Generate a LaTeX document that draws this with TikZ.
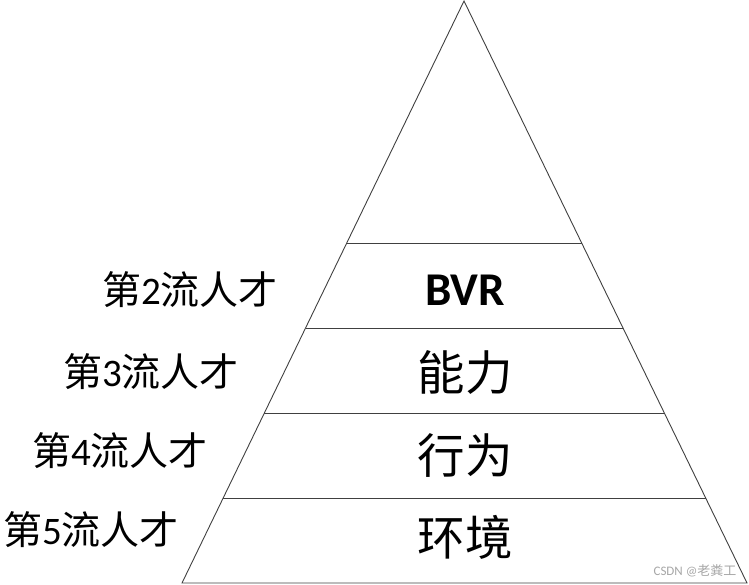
\documentclass[tikz,border=0pt]{standalone}
\usepackage{fontspec}
\setmainfont{Carlito}
\newfontfamily\cjk{Noto Sans CJK SC}
\begin{document}
\begin{tikzpicture}[x=1pt,y=-1pt,
  edge/.style={draw=black!75,line width=0.9pt},
  lab/.style={font=\fontsize{39}{42}\selectfont,inner sep=0pt,anchor=center},
  mid/.style={font=\fontsize{47.5}{50}\selectfont\cjk,inner sep=0pt,anchor=center},
  wm/.style={font=\fontsize{13}{14}\selectfont,text=black!35,inner sep=0pt,anchor=center}]
\useasboundingbox (0,0) rectangle (749,584);
\coordinate (A) at (464,1);
\coordinate (L) at (182,583);
\coordinate (R) at (747,583);
\draw[edge] (L) -- (A) -- (R) -- cycle;
\foreach \y/\n in {243/a,328/b,413/c,498/d}{
  \path (A) -- (L) coordinate[pos={(\y-1)/582}] (l\n);
  \path (A) -- (R) coordinate[pos={(\y-1)/582}] (r\n);
  \draw[edge] (l\n) -- (r\n);
}
\node[lab] (t2) at (190,290) {{\cjk 第}2{\cjk 流人才}};
\node[lab] (t3) at (151,372) {{\cjk 第}3{\cjk 流人才}};
\node[lab] (t4) at (120,451) {{\cjk 第}4{\cjk 流人才}};
\node[lab] (t5) at (91,530) {{\cjk 第}5{\cjk 流人才}};
\node[inner sep=0pt,font=\fontsize{47}{50}\selectfont\bfseries] (m2) at (465,290) {BVR};
\node[mid] (m3) at (465,372) {能力};
\node[mid] (m4) at (465,455) {行为};
\node[mid] (m5) at (465,537) {环境};
\node[wm] (w) at (695,571) {CSDN @{\cjk 老粪工}};
\end{tikzpicture}
\end{document}
